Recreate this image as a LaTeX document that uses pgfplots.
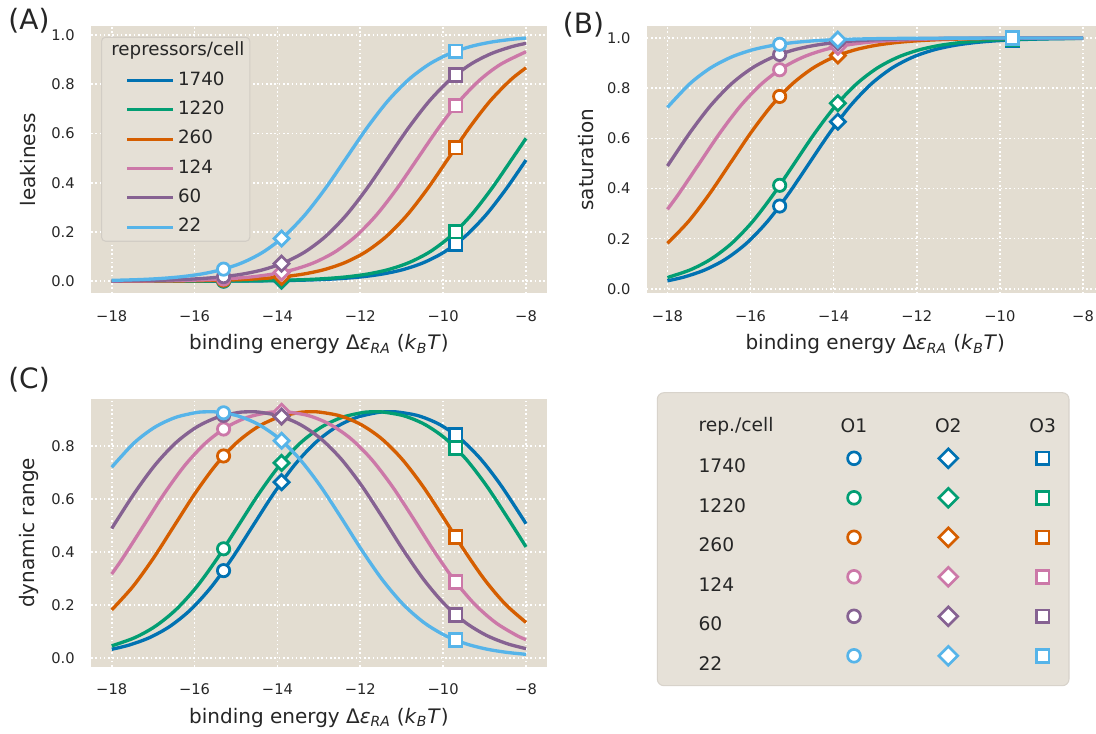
\documentclass[border=0pt]{standalone}
\usepackage{fontspec}
\setmainfont{DejaVu Sans}
\usepackage{pgfplots}
\pgfplotsset{compat=1.18}

\definecolor{c1740}{RGB}{1,114,178}
\definecolor{c1220}{RGB}{2,158,115}
\definecolor{c260}{RGB}{213,94,0}
\definecolor{c124}{RGB}{204,120,168}
\definecolor{c60}{RGB}{134,98,146}
\definecolor{c22}{RGB}{86,180,233}
\definecolor{bgc}{RGB}{227,221,209}
\definecolor{legbg}{RGB}{229,224,214}
\definecolor{legdraw}{RGB}{210,205,197}
\definecolor{tabbg}{RGB}{230,225,216}
\definecolor{tabdraw}{RGB}{216,211,203}
\definecolor{txt}{RGB}{38,38,38}

\pgfplotsset{
  panel/.style={
    scale only axis, anchor=north west,
    xmin=-18.5, xmax=-7.5,
    xtick={-18,-16,-14,-12,-10,-8},
    xticklabels={−18,−16,−14,−12,−10,−8},
    grid=major,
    major grid style={draw=white, line width=1.2pt, dash pattern=on 1.2pt off 2pt},
    axis line style={draw=none},
    major tick length=0pt,
    axis background/.style={fill=bgc},
    tick label style={font=\fontsize{11}{13}\selectfont, text=txt},
    xticklabel style={anchor=north, inner sep=0pt, yshift=-12.75pt},
    yticklabel style={anchor=east, inner sep=0pt, xshift=-12pt},
    label style={font=\fontsize{15}{18}\selectfont, text=txt},
    xlabel={binding energy Δ\textit{ε}\textsubscript{\textit{RA}} (\textit{k}\textsubscript{\textit{B}}\textit{T})},
    xlabel style={at={(axis description cs:0.5,-0.19)}, anchor=center},
    ylabel style={anchor=center},
  },
  ln/.style={color=#1, line width=2.5pt, smooth, mark=none},
  mkA/.style={only marks, forget plot, mark=*, mark size=4.6pt, mark options={fill=white, draw=#1, line width=2.1pt, solid}},
  mkB/.style={only marks, forget plot, mark=square*, mark size=4.0pt, mark options={fill=white, draw=#1, line width=2.1pt, solid, rotate=45}},
  mkC/.style={only marks, forget plot, mark=square*, mark size=4.8pt, mark options={fill=white, draw=#1, line width=2.1pt, solid}},
  tA/.style={only marks, forget plot, mark=*, mark size=4.8pt, mark options={fill=white, draw=#1, line width=2pt, solid}},
  tB/.style={only marks, forget plot, mark=square*, mark size=5.0pt, mark options={fill=white, draw=#1, line width=2pt, solid, rotate=45}},
  tC/.style={only marks, forget plot, mark=square*, mark size=4.8pt, mark options={fill=white, draw=#1, line width=2pt, solid}},
}

\begin{document}
\begin{tikzpicture}
\useasboundingbox (0pt,0pt) rectangle (822pt,-550.5pt);

% ---------------- (A) leakiness ----------------
\begin{axis}[panel, at={(68.25pt,-19.5pt)}, width=341.8pt, height=200.5pt,
  ymin=-0.049, ymax=1.036,
  ytick={0,0.2,0.4,0.6,0.8,1}, yticklabels={0.0,0.2,0.4,0.6,0.8,1.0},
  ylabel={leakiness}, ylabel style={at={(axis description cs:-0.139,0.5)}},
  legend cell align=left,
  legend style={at={(0.022,0.96)}, anchor=north west, fill=legbg, draw=legdraw, line width=0.8pt,
    rounded corners=3pt, inner xsep=4pt, inner ysep=4pt, row sep=9pt, column sep=3pt,
    nodes={inner sep=0pt, text height=10pt, text depth=3pt, font=\fontsize{13.7}{16}\selectfont, text=txt}},
  legend image code/.code={\path (-14pt,0pt); \draw[#1, line width=2.2pt] (0pt,0pt) -- (34pt,0pt);},
]
\addlegendimage{empty legend}
\addlegendentry{\hspace*{-50pt}repressors/cell}

\addplot[ln=c1740] coordinates {(-18,0.0000) (-17.468,0.0001) (-16.968,0.0001) (-16.468,0.0002) (-15.968,0.0003) (-15.468,0.0006) (-14.968,0.0009) (-14.468,0.0015) (-13.968,0.0025) (-13.468,0.0041) (-12.968,0.0067) (-12.468,0.0110) (-11.968,0.0180) (-11.468,0.0293) (-10.968,0.0474) (-10.468,0.0759) (-9.968,0.1192) (-9.468,0.1824) (-8.968,0.2689) (-8.468,0.3775) (-8,0.4920)};
\addlegendentry{1740}
\addplot[mkA=c1740] coordinates {(-15.3,0.0007)};
\addplot[mkB=c1740] coordinates {(-13.9,0.0027)};
\addplot[mkC=c1740] coordinates {(-9.7,0.1503)};

\addplot[ln=c1220] coordinates {(-18,0.0001) (-17.323,0.0001) (-16.823,0.0002) (-16.323,0.0003) (-15.823,0.0006) (-15.323,0.0009) (-14.823,0.0015) (-14.323,0.0025) (-13.823,0.0041) (-13.323,0.0067) (-12.823,0.0110) (-12.323,0.0180) (-11.823,0.0293) (-11.323,0.0474) (-10.823,0.0759) (-10.323,0.1192) (-9.823,0.1824) (-9.323,0.2689) (-8.823,0.3775) (-8.323,0.5000) (-8,0.5800)};
\addlegendentry{1220}
\addplot[mkA=c1220] coordinates {(-15.3,0.0009)};
\addplot[mkB=c1220] coordinates {(-13.9,0.0038)};
\addplot[mkC=c1220] coordinates {(-9.7,0.2015)};

\addplot[ln=c260] coordinates {(-18,0.0003) (-17.369,0.0006) (-16.869,0.0009) (-16.369,0.0015) (-15.869,0.0025) (-15.369,0.0041) (-14.869,0.0067) (-14.369,0.0110) (-13.869,0.0180) (-13.369,0.0293) (-12.869,0.0474) (-12.369,0.0759) (-11.869,0.1192) (-11.369,0.1824) (-10.869,0.2689) (-10.369,0.3775) (-9.869,0.5000) (-9.369,0.6225) (-8.869,0.7311) (-8.369,0.8176) (-8,0.8663)};
\addlegendentry{260}
\addplot[mkA=c260] coordinates {(-15.3,0.0044)};
\addplot[mkB=c260] coordinates {(-13.9,0.0175)};
\addplot[mkC=c260] coordinates {(-9.7,0.5422)};

\addplot[ln=c124] coordinates {(-18,0.0006) (-17.610,0.0009) (-17.110,0.0015) (-16.610,0.0025) (-16.110,0.0041) (-15.610,0.0067) (-15.110,0.0110) (-14.610,0.0180) (-14.110,0.0293) (-13.610,0.0474) (-13.110,0.0759) (-12.610,0.1192) (-12.110,0.1824) (-11.610,0.2689) (-11.110,0.3775) (-10.610,0.5000) (-10.110,0.6225) (-9.610,0.7311) (-9.110,0.8176) (-8.610,0.8808) (-8,0.9315)};
\addlegendentry{124}
\addplot[mkA=c124] coordinates {(-15.3,0.0091)};
\addplot[mkB=c124] coordinates {(-13.9,0.0359)};
\addplot[mkC=c124] coordinates {(-9.7,0.7130)};

\addplot[ln=c60] coordinates {(-18,0.0013) (-17.336,0.0025) (-16.836,0.0041) (-16.336,0.0067) (-15.836,0.0110) (-15.336,0.0180) (-14.836,0.0293) (-14.336,0.0474) (-13.836,0.0759) (-13.336,0.1192) (-12.836,0.1824) (-12.336,0.2689) (-11.836,0.3775) (-11.336,0.5000) (-10.836,0.6225) (-10.336,0.7311) (-9.836,0.8176) (-9.336,0.8808) (-8.836,0.9241) (-8.336,0.9526) (-8,0.9656)};
\addlegendentry{60}
\addplot[mkA=c60] coordinates {(-15.3,0.0186)};
\addplot[mkB=c60] coordinates {(-13.9,0.0715)};
\addplot[mkC=c60] coordinates {(-9.7,0.8370)};

\addplot[ln=c22] coordinates {(-18,0.0035) (-17.339,0.0067) (-16.839,0.0110) (-16.339,0.0180) (-15.839,0.0293) (-15.339,0.0474) (-14.839,0.0759) (-14.339,0.1192) (-13.839,0.1824) (-13.339,0.2689) (-12.839,0.3775) (-12.339,0.5000) (-11.839,0.6225) (-11.339,0.7311) (-10.839,0.8176) (-10.339,0.8808) (-9.839,0.9241) (-9.339,0.9526) (-8.839,0.9707) (-8.339,0.9820) (-8,0.9871)};
\addlegendentry{22}
\addplot[mkA=c22] coordinates {(-15.3,0.0492)};
\addplot[mkB=c22] coordinates {(-13.9,0.1735)};
\addplot[mkC=c22] coordinates {(-9.7,0.9333)};
\end{axis}

% ---------------- (B) saturation ----------------
\begin{axis}[panel, at={(485.0pt,-19.5pt)}, width=336.8pt, height=200.5pt,
  xmax=-7.694,
  xlabel style={at={(axis description cs:0.509,-0.19)}},
  ymin=-0.018, ymax=1.048,
  ytick={0,0.2,0.4,0.6,0.8,1}, yticklabels={0.0,0.2,0.4,0.6,0.8,1.0},
  ylabel={saturation}, ylabel style={at={(axis description cs:-0.135,0.5)}},
]
\addplot[ln=c1740] coordinates {(-18,0.0320) (-17.592,0.0474) (-17.092,0.0759) (-16.592,0.1192) (-16.092,0.1824) (-15.592,0.2689) (-15.092,0.3775) (-14.592,0.5000) (-14.092,0.6225) (-13.592,0.7311) (-13.092,0.8176) (-12.592,0.8808) (-12.092,0.9241) (-11.592,0.9526) (-11.092,0.9707) (-10.592,0.9820) (-10.092,0.9890) (-9.592,0.9933) (-9.092,0.9959) (-8.592,0.9975) (-8,0.9986)};
\addplot[mkA=c1740] coordinates {(-15.3,0.3300)};
\addplot[mkB=c1740] coordinates {(-13.9,0.6664)};
\addplot[mkC=c1740] coordinates {(-9.7,0.9925)};

\addplot[ln=c1220] coordinates {(-18,0.0451) (-17.447,0.0759) (-16.947,0.1192) (-16.447,0.1824) (-15.947,0.2689) (-15.447,0.3775) (-14.947,0.5000) (-14.447,0.6225) (-13.947,0.7311) (-13.447,0.8176) (-12.947,0.8808) (-12.447,0.9241) (-11.947,0.9526) (-11.447,0.9707) (-10.947,0.9820) (-10.447,0.9890) (-9.947,0.9933) (-9.447,0.9959) (-8.947,0.9975) (-8.447,0.9985) (-8,0.9990)};
\addplot[mkA=c1220] coordinates {(-15.3,0.4127)};
\addplot[mkB=c1220] coordinates {(-13.9,0.7402)};
\addplot[mkC=c1220] coordinates {(-9.7,0.9948)};

\addplot[ln=c260] coordinates {(-18,0.1812) (-17.492,0.2689) (-16.992,0.3775) (-16.492,0.5000) (-15.992,0.6225) (-15.492,0.7311) (-14.992,0.8176) (-14.492,0.8808) (-13.992,0.9241) (-13.492,0.9526) (-12.992,0.9707) (-12.492,0.9820) (-11.992,0.9890) (-11.492,0.9933) (-10.992,0.9959) (-10.492,0.9975) (-9.992,0.9985) (-9.492,0.9991) (-8.992,0.9994) (-8.492,0.9997) (-8,0.9998)};
\addplot[mkA=c260] coordinates {(-15.3,0.7671)};
\addplot[mkB=c260] coordinates {(-13.9,0.9303)};
\addplot[mkC=c260] coordinates {(-9.7,0.9989)};

\addplot[ln=c124] coordinates {(-18,0.3171) (-17.733,0.3775) (-17.233,0.5000) (-16.733,0.6225) (-16.233,0.7311) (-15.733,0.8176) (-15.233,0.8808) (-14.733,0.9241) (-14.233,0.9526) (-13.733,0.9707) (-13.233,0.9820) (-12.733,0.9890) (-12.233,0.9933) (-11.733,0.9959) (-11.233,0.9975) (-10.733,0.9985) (-10.233,0.9991) (-9.733,0.9994) (-9.233,0.9997) (-8.733,0.9998) (-8,0.9999)};
\addplot[mkA=c124] coordinates {(-15.3,0.8736)};
\addplot[mkB=c124] coordinates {(-13.9,0.9655)};
\addplot[mkC=c124] coordinates {(-9.7,0.9995)};

\addplot[ln=c60] coordinates {(-18,0.4898) (-17.459,0.6225) (-16.959,0.7311) (-16.459,0.8176) (-15.959,0.8808) (-15.459,0.9241) (-14.959,0.9526) (-14.459,0.9707) (-13.959,0.9820) (-13.459,0.9890) (-12.959,0.9933) (-12.459,0.9959) (-11.959,0.9975) (-11.459,0.9985) (-10.959,0.9991) (-10.459,0.9994) (-9.959,0.9997) (-9.459,0.9998) (-8.959,0.9999) (-8,1.0000)};
\addplot[mkA=c60] coordinates {(-15.3,0.9346)};
\addplot[mkB=c60] coordinates {(-13.9,0.9830)};
\addplot[mkC=c60] coordinates {(-9.7,0.9997)};

\addplot[ln=c22] coordinates {(-18,0.7235) (-17.462,0.8176) (-16.962,0.8808) (-16.462,0.9241) (-15.962,0.9526) (-15.462,0.9707) (-14.962,0.9820) (-14.462,0.9890) (-13.962,0.9933) (-13.462,0.9959) (-12.962,0.9975) (-12.462,0.9985) (-11.962,0.9991) (-11.462,0.9994) (-10.962,0.9997) (-10.462,0.9998) (-9.962,0.9999) (-8,1.0000)};
\addplot[mkA=c22] coordinates {(-15.3,0.9750)};
\addplot[mkB=c22] coordinates {(-13.9,0.9937)};
\addplot[mkC=c22] coordinates {(-9.7,0.9999)};
\end{axis}

% ---------------- (C) dynamic range ----------------
\begin{axis}[panel, at={(68.25pt,-299.25pt)}, width=341.8pt, height=200.8pt,
  ymin=-0.034, ymax=0.978,
  ytick={0,0.2,0.4,0.6,0.8}, yticklabels={0.0,0.2,0.4,0.6,0.8},
  ylabel={dynamic range}, ylabel style={at={(axis description cs:-0.136,0.5)}},
]
\addplot[ln=c1740] coordinates {(-18,0.0320) (-17.592,0.0474) (-17.092,0.0757) (-16.592,0.1190) (-16.092,0.1821) (-15.592,0.2685) (-15.092,0.3767) (-14.592,0.4987) (-14.092,0.6203) (-13.592,0.7275) (-13.092,0.8117) (-12.592,0.8711) (-12.092,0.9082) (-11.592,0.9266) (-11.342,0.9296) (-11.092,0.9286) (-10.592,0.9144) (-10.092,0.8822) (-9.592,0.8287) (-9.092,0.7507) (-8.592,0.6487) (-8,0.5066)};
\addplot[mkA=c1740] coordinates {(-15.3,0.3293)};
\addplot[mkB=c1740] coordinates {(-13.9,0.6637)};
\addplot[mkC=c1740] coordinates {(-9.7,0.8422)};

\addplot[ln=c1220] coordinates {(-18,0.0450) (-17.447,0.0757) (-16.947,0.1190) (-16.447,0.1821) (-15.947,0.2685) (-15.447,0.3767) (-14.947,0.4987) (-14.447,0.6203) (-13.947,0.7275) (-13.447,0.8117) (-12.947,0.8711) (-12.447,0.9082) (-11.947,0.9266) (-11.697,0.9296) (-11.447,0.9286) (-10.947,0.9144) (-10.447,0.8822) (-9.947,0.8287) (-9.447,0.7507) (-8.947,0.6487) (-8.447,0.5295) (-8,0.4190)};
\addplot[mkA=c1220] coordinates {(-15.3,0.4118)};
\addplot[mkB=c1220] coordinates {(-13.9,0.7364)};
\addplot[mkC=c1220] coordinates {(-9.7,0.7933)};

\addplot[ln=c260] coordinates {(-18,0.1809) (-17.492,0.2685) (-16.992,0.3767) (-16.492,0.4987) (-15.992,0.6203) (-15.492,0.7275) (-14.992,0.8117) (-14.492,0.8711) (-13.992,0.9082) (-13.492,0.9266) (-13.242,0.9296) (-12.992,0.9286) (-12.492,0.9144) (-11.992,0.8822) (-11.492,0.8287) (-10.992,0.7507) (-10.492,0.6487) (-9.992,0.5295) (-9.492,0.4062) (-8.992,0.2935) (-8.492,0.2013) (-8,0.1335)};
\addplot[mkA=c260] coordinates {(-15.3,0.7627)};
\addplot[mkB=c260] coordinates {(-13.9,0.9128)};
\addplot[mkC=c260] coordinates {(-9.7,0.4567)};

\addplot[ln=c124] coordinates {(-18,0.3165) (-17.733,0.3767) (-17.233,0.4987) (-16.733,0.6203) (-16.233,0.7275) (-15.733,0.8117) (-15.233,0.8711) (-14.733,0.9082) (-14.233,0.9266) (-13.983,0.9296) (-13.733,0.9286) (-13.233,0.9144) (-12.733,0.8822) (-12.233,0.8287) (-11.733,0.7507) (-11.233,0.6487) (-10.733,0.5295) (-10.233,0.4062) (-9.733,0.2935) (-9.233,0.2013) (-8.733,0.1327) (-8.233,0.0849) (-8,0.0684)};
\addplot[mkA=c124] coordinates {(-15.3,0.8645)};
\addplot[mkB=c124] coordinates {(-13.9,0.9296)};
\addplot[mkC=c124] coordinates {(-9.7,0.2865)};

\addplot[ln=c60] coordinates {(-18,0.4885) (-17.459,0.6203) (-16.959,0.7275) (-16.459,0.8117) (-15.959,0.8711) (-15.459,0.9082) (-14.959,0.9266) (-14.709,0.9296) (-14.459,0.9286) (-13.959,0.9144) (-13.459,0.8822) (-12.959,0.8287) (-12.459,0.7507) (-11.959,0.6487) (-11.459,0.5295) (-10.959,0.4062) (-10.459,0.2935) (-9.959,0.2013) (-9.459,0.1327) (-8.959,0.0849) (-8.459,0.0533) (-8,0.0344)};
\addplot[mkA=c60] coordinates {(-15.3,0.9160)};
\addplot[mkB=c60] coordinates {(-13.9,0.9115)};
\addplot[mkC=c60] coordinates {(-9.7,0.1627)};

\addplot[ln=c22] coordinates {(-18,0.7200) (-17.462,0.8117) (-16.962,0.8711) (-16.462,0.9082) (-15.962,0.9266) (-15.712,0.9296) (-15.462,0.9286) (-14.962,0.9144) (-14.462,0.8822) (-13.962,0.8287) (-13.462,0.7507) (-12.962,0.6487) (-12.462,0.5295) (-11.962,0.4062) (-11.462,0.2935) (-10.962,0.2013) (-10.462,0.1327) (-9.962,0.0849) (-9.462,0.0533) (-8.962,0.0330) (-8.462,0.0203) (-8,0.0129)};
\addplot[mkA=c22] coordinates {(-15.3,0.9258)};
\addplot[mkB=c22] coordinates {(-13.9,0.8202)};
\addplot[mkC=c22] coordinates {(-9.7,0.0666)};
\end{axis}

% ---------------- legend table ----------------
\draw[fill=tabbg, draw=tabdraw, line width=0.8pt, rounded corners=5pt] (492.975pt,-294.525pt) rectangle (801.75pt,-514.275pt);
\begin{axis}[at={(492.975pt,-294.525pt)}, anchor=north west, scale only axis,
  width=308.775pt, height=219.75pt, hide axis, clip=false,
  xmin=657.3, xmax=1069, ymin=-685.7, ymax=-392.7]
\node[anchor=west, inner sep=0pt, font=\fontsize{14}{16}\selectfont, text=txt] at (axis cs:698.3,-426) {rep./cell};
\node[inner sep=0pt, font=\fontsize{14}{16}\selectfont, text=txt] at (axis cs:854,-426) {O1};
\node[inner sep=0pt, font=\fontsize{14}{16}\selectfont, text=txt] at (axis cs:948.3,-426) {O2};
\node[inner sep=0pt, font=\fontsize{14}{16}\selectfont, text=txt] at (axis cs:1042.7,-426) {O3};
\node[anchor=west, inner sep=0pt, font=\fontsize{14}{16}\selectfont, text=txt] at (axis cs:698.3,-466) {1740};
\node[anchor=west, inner sep=0pt, font=\fontsize{14}{16}\selectfont, text=txt] at (axis cs:698.3,-505.5) {1220};
\node[anchor=west, inner sep=0pt, font=\fontsize{14}{16}\selectfont, text=txt] at (axis cs:698.3,-545) {260};
\node[anchor=west, inner sep=0pt, font=\fontsize{14}{16}\selectfont, text=txt] at (axis cs:698.3,-584.5) {124};
\node[anchor=west, inner sep=0pt, font=\fontsize{14}{16}\selectfont, text=txt] at (axis cs:698.3,-624) {60};
\node[anchor=west, inner sep=0pt, font=\fontsize{14}{16}\selectfont, text=txt] at (axis cs:698.3,-663.3) {22};
\addplot[tA=c1740] coordinates {(854,-458.3)};
\addplot[tB=c1740] coordinates {(948.3,-458.3)};
\addplot[tC=c1740] coordinates {(1042.7,-458.3)};
\addplot[tA=c1220] coordinates {(854,-497.8)};
\addplot[tB=c1220] coordinates {(948.3,-497.8)};
\addplot[tC=c1220] coordinates {(1042.7,-497.8)};
\addplot[tA=c260] coordinates {(854,-537.3)};
\addplot[tB=c260] coordinates {(948.3,-537.3)};
\addplot[tC=c260] coordinates {(1042.7,-537.3)};
\addplot[tA=c124] coordinates {(854,-576.8)};
\addplot[tB=c124] coordinates {(948.3,-576.8)};
\addplot[tC=c124] coordinates {(1042.7,-576.8)};
\addplot[tA=c60] coordinates {(854,-616.3)};
\addplot[tB=c60] coordinates {(948.3,-616.3)};
\addplot[tC=c60] coordinates {(1042.7,-616.3)};
\addplot[tA=c22] coordinates {(854,-655.8)};
\addplot[tB=c22] coordinates {(948.3,-655.8)};
\addplot[tC=c22] coordinates {(1042.7,-655.8)};
\end{axis}

% panel labels
\node[font=\fontsize{21}{24}\selectfont, text=txt] at (21.75pt,-15.4pt) {(A)};
\node[font=\fontsize{21}{24}\selectfont, text=txt] at (437.6pt,-18.75pt) {(B)};
\node[font=\fontsize{21}{24}\selectfont, text=txt] at (21.75pt,-285pt) {(C)};
\end{tikzpicture}
\end{document}
